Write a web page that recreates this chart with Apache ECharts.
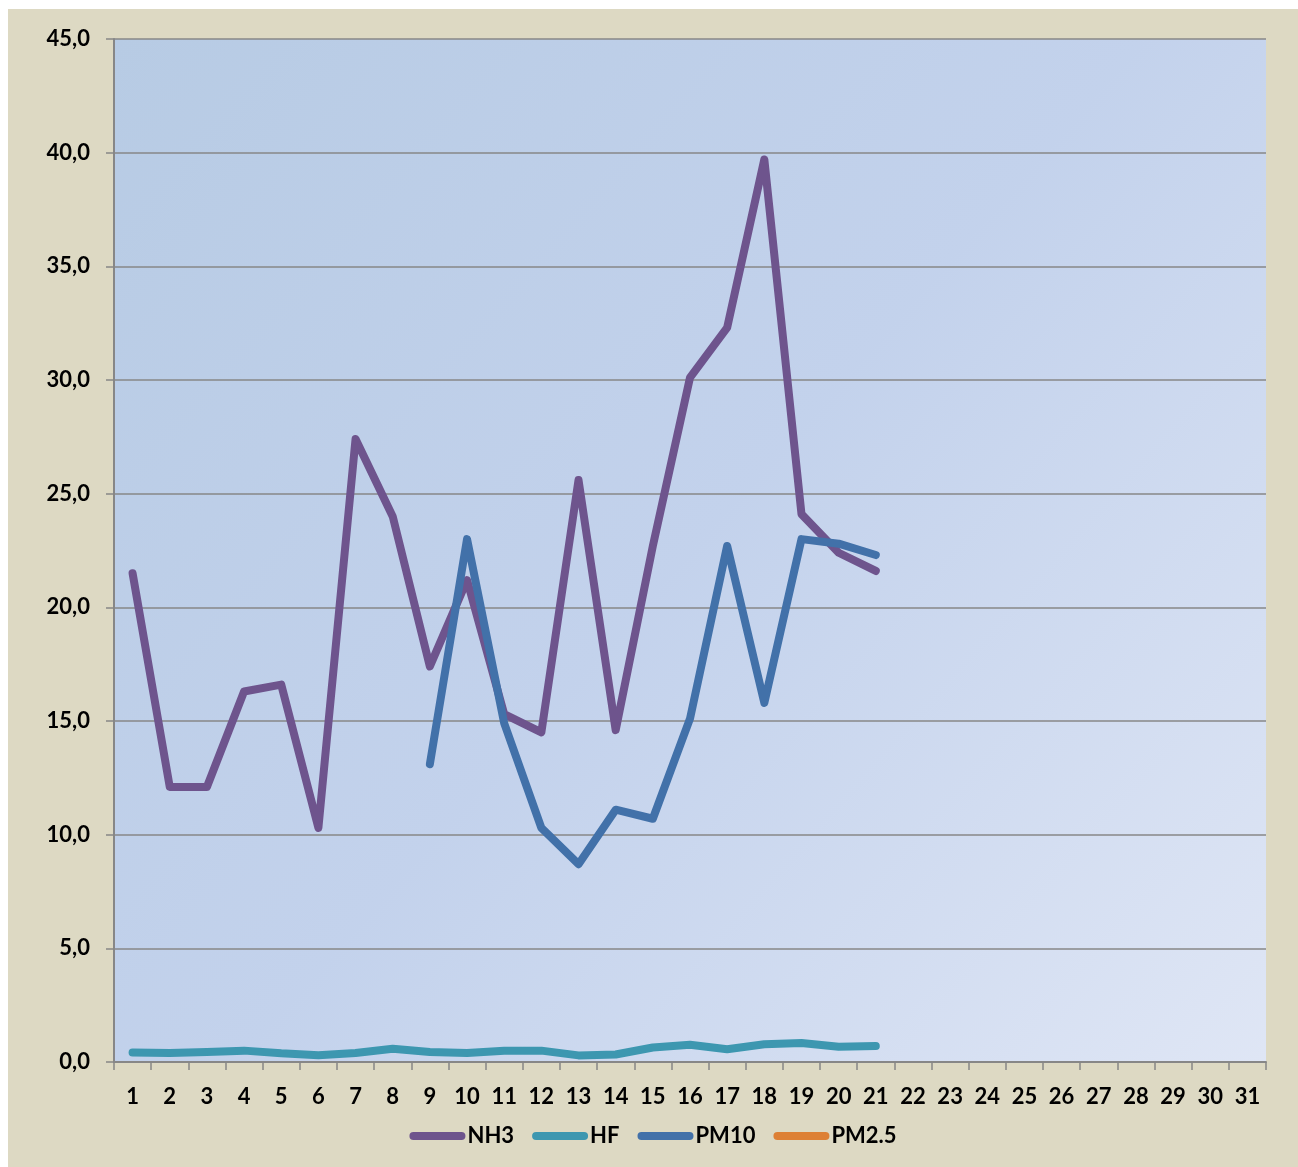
<!DOCTYPE html>
<html>
<head>
<meta charset="utf-8">
<script src="https://cdn.jsdelivr.net/npm/echarts@6/dist/echarts.min.js"></script>
<style>
  html, body { margin: 0; padding: 0; background: #ffffff; }
  #chart { position: absolute; left: 8px; top: 9px; width: 1290px; height: 1158px; }
</style>
</head>
<body>
<div id="chart"></div>
<script>
const days = ['1','2','3','4','5','6','7','8','9','10','11','12','13','14','15','16','17','18','19','20','21','22','23','24','25','26','27','28','29','30','31'];
const nh3 = [21.5, 12.1, 12.1, 16.3, 16.6, 10.3, 27.4, 24.0, 17.4, 21.2, 15.3, 14.5, 25.6, 14.6, 22.7, 30.1, 32.3, 39.7, 24.1, 22.4, 21.6, null, null, null, null, null, null, null, null, null, null];
const hf = [0.42, 0.40, 0.44, 0.50, 0.38, 0.30, 0.40, 0.58, 0.44, 0.40, 0.50, 0.50, 0.29, 0.33, 0.64, 0.76, 0.56, 0.78, 0.84, 0.67, 0.70, null, null, null, null, null, null, null, null, null, null];
const pm10 = [null, null, null, null, null, null, null, null, 13.1, 23.0, 14.9, 10.3, 8.7, 11.1, 10.7, 15.1, 22.7, 15.8, 23.0, 22.8, 22.3, null, null, null, null, null, null, null, null, null, null];
const pm25 = [null, null, null, null, null, null, null, null, null, null, null, null, null, null, null, null, null, null, null, null, null, null, null, null, null, null, null, null, null, null, null];
const seriesNames = ['NH3', 'HF', 'PM10', 'PM2.5'];
const seriesColors = ['#6E548D', '#3D97B0', '#4271A9', '#DD8035'];

const chart = echarts.init(document.getElementById('chart'));
const font = 'Lato, Carlito, Calibri, "Liberation Sans", sans-serif';
const capsule = 'path://M4,0 L52,0 A4,4 0 0 1 52,8 L4,8 A4,4 0 0 1 4,0 Z';
const datasets = [nh3, hf, pm10, pm25];

chart.setOption({
  backgroundColor: '#DDD9C3',
  animation: false,
  grid: {
    left: 106, top: 30, right: 32, bottom: 105,
    show: true,
    borderWidth: 0,
    backgroundColor: new echarts.graphic.LinearGradient(0, 0, 1, 1, [
      { offset: 0, color: '#B7CBE4' },
      { offset: 0.5, color: '#C3D2EC' },
      { offset: 1, color: '#DFE6F5' }
    ])
  },
  legend: {
    bottom: 15,
    left: 'center',
    itemWidth: 56,
    itemHeight: 8,
    itemGap: 18,
    textStyle: { fontFamily: font, fontWeight: 'bold', fontSize: 22, color: '#000', padding: [0, 0, 0, -3] },
    data: seriesNames.map((n) => ({ name: n, icon: capsule }))
  },
  xAxis: {
    type: 'category',
    data: days,
    boundaryGap: true,
    axisLine: { lineStyle: { color: '#878787', width: 2 } },
    axisTick: { show: true, alignWithLabel: false, length: 8, lineStyle: { color: '#878787', width: 1.5 } },
    axisLabel: { fontFamily: font, fontWeight: 'bold', fontSize: 22, color: '#000', margin: 24, interval: 0 },
    splitLine: { show: false }
  },
  yAxis: {
    type: 'value',
    min: 0, max: 45, interval: 5,
    axisLine: { show: true, lineStyle: { color: '#878787', width: 2 } },
    axisTick: { show: true, length: 8, lineStyle: { color: '#878787', width: 1.5 } },
    axisLabel: {
      fontFamily: font, fontWeight: 'bold', fontSize: 22, color: '#000', margin: 24,
      formatter: (v) => v.toFixed(1).replace('.', ',')
    },
    splitLine: { show: true, lineStyle: { color: '#878787', width: 1.5 } }
  },
  series: seriesNames.map((n, i) => ({
    name: n,
    type: 'line',
    data: datasets[i],
    symbol: 'none',
    connectNulls: false,
    color: seriesColors[i],
    lineStyle: { width: 8, color: seriesColors[i], cap: 'round', join: 'round' },
    z: 2 + i
  }))
});
</script>
</body>
</html>
